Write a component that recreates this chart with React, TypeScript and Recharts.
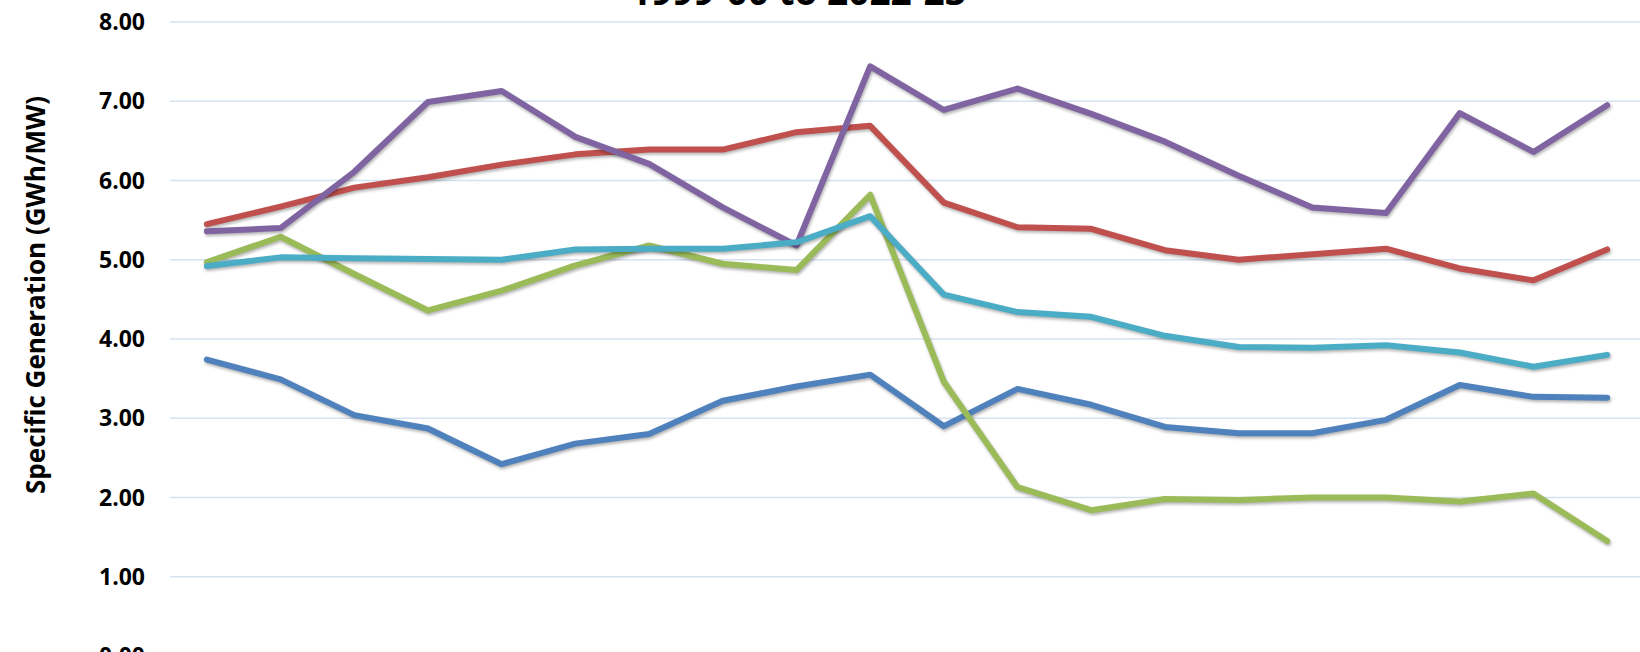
import { LineChart, Line, XAxis, YAxis, CartesianGrid } from "recharts";

// years on the category axis (their labels fall below the visible crop)
const years = [
    "2003-04", "2004-05", "2005-06", "2006-07", "2007-08",
    "2008-09", "2009-10", "2010-11", "2011-12", "2012-13",
    "2013-14", "2014-15", "2015-16", "2016-17", "2017-18",
    "2018-19", "2019-20", "2020-21", "2021-22", "2022-23",
];

const seriesBlue = [3.74, 3.49, 3.04, 2.87, 2.42, 2.68, 2.80, 3.22, 3.40, 3.55, 2.90, 3.37, 3.17, 2.89, 2.81, 2.81, 2.98, 3.42, 3.27, 3.26];
const seriesRed = [5.45, 5.67, 5.91, 6.04, 6.20, 6.33, 6.39, 6.39, 6.61, 6.69, 5.72, 5.41, 5.39, 5.12, 5.00, 5.07, 5.14, 4.89, 4.74, 5.13];
const seriesGreen = [4.97, 5.29, 4.82, 4.36, 4.61, 4.93, 5.18, 4.95, 4.87, 5.82, 3.46, 2.13, 1.84, 1.98, 1.97, 2.00, 2.00, 1.95, 2.05, 1.45];
const seriesPurple = [5.36, 5.40, 6.11, 6.99, 7.13, 6.55, 6.21, 5.66, 5.18, 7.44, 6.89, 7.16, 6.84, 6.49, 6.06, 5.66, 5.59, 6.85, 6.36, 6.95];
const seriesAqua = [4.92, 5.03, 5.02, 5.01, 5.00, 5.13, 5.14, 5.14, 5.22, 5.55, 4.56, 4.34, 4.28, 4.04, 3.90, 3.89, 3.92, 3.83, 3.65, 3.80];

const yTicks = [0, 1, 2, 3, 4, 5, 6, 7, 8];

const FONT = "'Open Sans', 'DejaVu Sans', sans-serif";

const lines = [
    { key: "s1", name: "Series 1", color: "#4F81BD" },
    { key: "s2", name: "Series 2", color: "#C0504D" },
    { key: "s3", name: "Series 3", color: "#9BBB59" },
    { key: "s4", name: "Series 4", color: "#8064A2" },
    { key: "s5", name: "Series 5", color: "#4BACC6" },
];

export default function App() {
    const data = years.map((year, i) => ({
        year,
        s1: seriesBlue[i],
        s2: seriesRed[i],
        s3: seriesGreen[i],
        s4: seriesPurple[i],
        s5: seriesAqua[i],
    }));

    return (
        <div style={{ position: "fixed", top: 0, left: 0, width: 1640, height: 652, overflow: "hidden", background: "#fff" }}>
            <style>{`.recharts-line-curve { filter: drop-shadow(1.5px 2.5px 1.5px rgba(0,0,0,0.3)); }`}</style>
            <LineChart
                width={1644}
                height={686}
                data={data}
                margin={{ top: 22, right: 0, left: 0, bottom: 0 }}
            >
                <CartesianGrid horizontal vertical={false} stroke="#D6E1EF" strokeWidth={1.5} />
                {/* category labels are cropped out of the reference, so no ticks drawn */}
                <XAxis
                    dataKey="year"
                    height={30}
                    axisLine={false}
                    tickLine={false}
                    tick={false}
                    padding={{ left: 36.85, right: 36.85 }}
                />
                <YAxis
                    width={170}
                    domain={[0, 8]}
                    ticks={yTicks}
                    interval={0}
                    axisLine={false}
                    tickLine={false}
                    tickSize={0}
                    tickMargin={25}
                    tickFormatter={(v: number) => v.toFixed(2)}
                    tick={{ fontFamily: FONT, fontSize: 23, fontWeight: 700, fill: "#000" }}
                />
                {lines.map(l => (
                    <Line
                        key={l.key}
                        type="linear"
                        dataKey={l.key}
                        name={l.name}
                        stroke={l.color}
                        strokeWidth={6}
                        strokeLinecap="round"
                        strokeLinejoin="round"
                        dot={false}
                        activeDot={false}
                        isAnimationActive={false}
                    />
                ))}
            </LineChart>
            <svg width={1640} height={652} style={{ position: "absolute", top: 0, left: 0, pointerEvents: "none" }}>
                <text x={798} y={5} textAnchor="middle" fontFamily={FONT} fontSize={37} fontWeight={700} fill="#000">
                    1999-00 to 2022-23
                </text>
                <text
                    x={0}
                    y={0}
                    transform="translate(35 295) rotate(-90)"
                    textAnchor="middle"
                    dominantBaseline="central"
                    fontFamily={FONT}
                    fontSize={26}
                    fontWeight={700}
                    fill="#000"
                >
                    Specific Generation (GWh/MW)
                </text>
            </svg>
        </div>
    );
}
